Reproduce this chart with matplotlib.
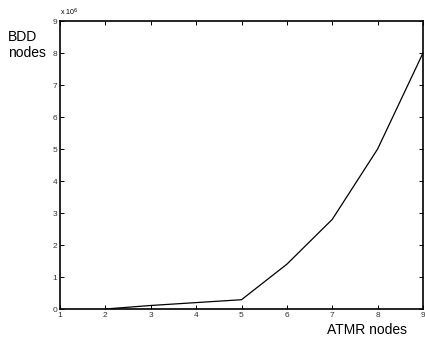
import matplotlib
matplotlib.use("Agg")
import matplotlib.pyplot as plt

plt.rcParams['font.family'] = ['Liberation Sans', 'DejaVu Sans']

# data
atmr_nodes = [2, 3, 4, 5, 6, 7, 8, 9]
bdd_nodes = [0.0, 0.11, 0.2, 0.29, 1.4, 2.8, 5.0, 8.0]  # in units of 1e6
x_ticks = [1, 2, 3, 4, 5, 6, 7, 8, 9]
y_ticks = [0, 1, 2, 3, 4, 5, 6, 7, 8, 9]

fig = plt.figure(figsize=(4.25, 3.44), dpi=100)
ax = fig.add_axes([60 / 425, 1 - 309 / 344, 363 / 425, 288 / 344])

ax.plot(atmr_nodes, bdd_nodes, color='black', linewidth=0.9)

ax.set_xlim(1, 9)
ax.set_ylim(0, 9)
ax.set_xticks(x_ticks)
ax.set_yticks(y_ticks)
ax.tick_params(direction='in', length=3, width=0.7, labelsize=6, pad=2,
               top=True, right=True, colors='black', labelcolor='#333333')
for s in ax.spines.values():
    s.set_linewidth(1.2)

# exponent marker, like matlab's
ax.text(0.0, 1.01, r'x 10$^6$', transform=ax.transAxes, fontsize=5,
        ha='left', va='bottom')

fig.text(8 / 425, 1 - 45 / 344, 'BDD\nnodes', fontsize=10, ha='left',
         va='center', linespacing=1.1)
fig.text(367 / 425, 1 - 330 / 344, 'ATMR nodes', fontsize=10, ha='center',
         va='center')

fig.savefig("out.png", dpi=100)
